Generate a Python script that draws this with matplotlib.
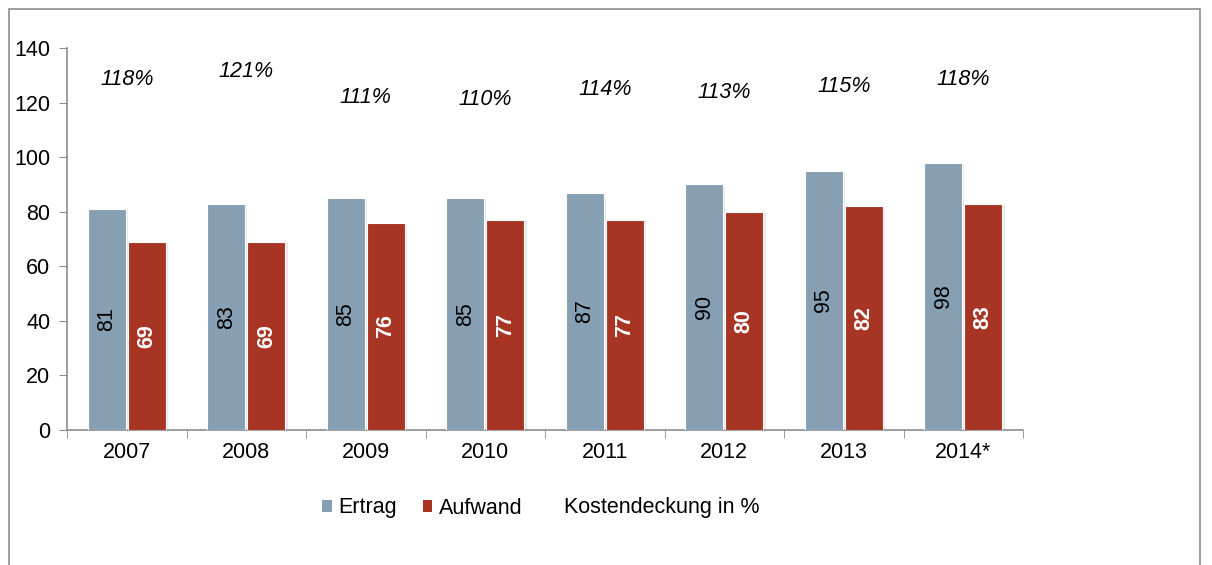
import matplotlib
matplotlib.use("Agg")
import matplotlib.pyplot as plt
import numpy as np
from matplotlib.patches import Rectangle, Patch
from matplotlib.lines import Line2D
import matplotlib.patheffects as pe

plt.rcParams['font.family'] = ['Liberation Sans', 'DejaVu Sans']

years = ["2007", "2008", "2009", "2010", "2011", "2012", "2013", "2014*"]
ertrag = [81, 83, 85, 85, 87, 90, 95, 98]
aufwand = [69, 69, 76, 77, 77, 80, 82, 83]
kostendeckung = [118, 121, 111, 110, 114, 113, 115, 118]

c_ertrag = "#879FB2"
c_aufwand = "#A83424"
gray = "#8C8C8C"
fs = 15.5

fig = plt.figure(figsize=(12.12, 5.65), dpi=100)
ax = fig.add_axes([67/1212, 1-430/565, (1023-67)/1212, (430-48)/565])

x = np.arange(len(years))
w = 0.32
off = 0.168
shadow = [pe.SimplePatchShadow(offset=(1.5, -1), shadow_rgbFace="#808080", alpha=0.18), pe.Normal()]
b1 = ax.bar(x - off, ertrag, w, color=c_ertrag, edgecolor="white", linewidth=0.8, zorder=3)
b2 = ax.bar(x + off, aufwand, w, color=c_aufwand, edgecolor="white", linewidth=0.8, zorder=3)
for b in list(b1) + list(b2):
    b.set_path_effects(shadow)

for xi, v in zip(x, ertrag):
    ax.text(xi - off, v/2, str(v), rotation=90, ha="center", va="center",
            fontsize=fs, color="black", zorder=4)
for xi, v in zip(x, aufwand):
    ax.text(xi + off, v/2, str(v), rotation=90, ha="center", va="center",
            fontsize=fs, color="white", fontweight="bold", zorder=4)

ax.set_xlim(-0.5, len(years) - 0.5)
ax.set_ylim(0, 140)
ax.set_yticks(range(0, 141, 20))
ax.set_xticks(x)
ax.set_xticklabels(years)
ax.set_xticks(np.arange(-0.5, len(years), 1.0), minor=True)
ax.tick_params(axis="x", which="major", length=0, labelsize=fs, pad=9)
ax.tick_params(axis="x", which="minor", length=6, color=gray, direction="out")
ax.tick_params(axis="y", length=6, color=gray, labelsize=fs, pad=6)
for s in ["top", "right"]:
    ax.spines[s].set_visible(False)
for s in ["left", "bottom"]:
    ax.spines[s].set_color(gray)
    ax.spines[s].set_linewidth(1.2)

ax2 = ax.twinx()
ax2.set_ylim(-19.7, 130.3)
ax2.axis("off")
ax2.plot(x, kostendeckung, linestyle="none", marker="none")
for xi, p in zip(x, kostendeckung):
    ax2.text(xi, p, f"{p}%", ha="center", va="center", fontsize=fs, style="italic")

handles = [Patch(facecolor=c_ertrag, edgecolor="none"),
           Patch(facecolor=c_aufwand, edgecolor="none"),
           Line2D([], [], linestyle="none")]
fig.legend(handles, ["Ertrag", "Aufwand", "Kostendeckung in %"], loc="center",
           bbox_to_anchor=(541/1212, 1-508/565), ncol=3, frameon=False, fontsize=fs,
           handlelength=0.45, handleheight=0.45, handletextpad=0.3, columnspacing=1.2)

fig.patches.append(Rectangle((9/1212, -0.05), (1200-9)/1212, 1.05 - 9/565,
                             transform=fig.transFigure, fill=False, edgecolor=gray,
                             linewidth=1.2))

fig.savefig("out.png", dpi=100)
